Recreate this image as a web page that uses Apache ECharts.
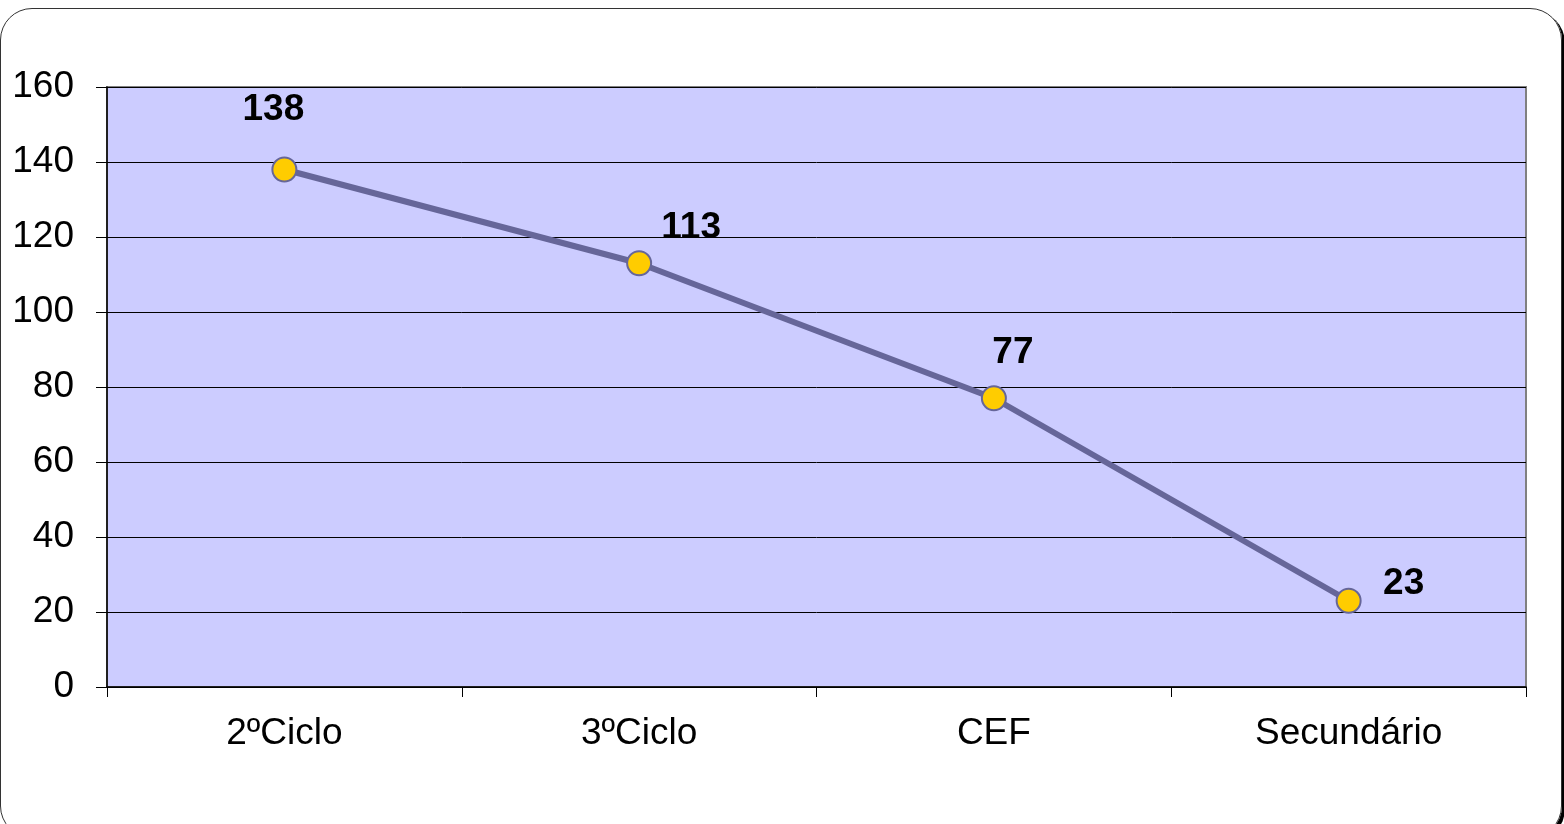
<!DOCTYPE html>
<html>
<head>
<meta charset="utf-8">
<script src="https://cdn.jsdelivr.net/npm/echarts@6/dist/echarts.min.js"></script>
<style>
html,body{margin:0;padding:0;background:#fff;}
#frame{position:absolute;left:0;top:8px;width:1562px;height:830px;border:1px solid #333;border-radius:32px;box-sizing:border-box;box-shadow:3px 3px 0 #000;}
#chart{position:absolute;left:0;top:0;width:1564px;height:824px;}
</style>
</head>
<body>
<div id="frame"></div>
<div id="chart"></div>
<script>
const categories = ['2ºCiclo', '3ºCiclo', 'CEF', 'Secundário'];
const values = [138, 113, 77, 23];
const yTicks = { min: 0, max: 160, interval: 20 };

const labelOffsets = [[-11, -60], [52, -35], [19, -45], [55, -17]];

const chart = echarts.init(document.getElementById('chart'), null, { renderer: 'canvas' });
chart.setOption({
  backgroundColor: 'transparent',
  animation: false,
  grid: { left: 107, right: 38, top: 87, bottom: 137, show: true, backgroundColor: '#CCCCFF', borderColor: '#808080', borderWidth: 2 },
  xAxis: {
    type: 'category',
    data: categories,
    boundaryGap: true,
    axisLine: { lineStyle: { color: '#000', width: 1.5 } },
    axisTick: { show: true, length: 10, lineStyle: { color: '#000' } },
    axisLabel: { fontFamily: 'Liberation Sans, Arial', fontSize: 37, color: '#000', margin: 28 }
  },
  yAxis: {
    type: 'value',
    min: yTicks.min, max: yTicks.max, interval: yTicks.interval,
    axisLine: { show: true, lineStyle: { color: '#000', width: 1.5 } },
    axisTick: { show: true, length: 11, lineStyle: { color: '#000' } },
    axisLabel: { fontFamily: 'Liberation Sans, Arial', fontSize: 37, color: '#000', margin: 33, padding: [4, 0, 0, 0] },
    splitLine: { show: true, lineStyle: { color: '#000', width: 1 } }
  },
  series: [{
    type: 'line',
    data: values.map((v, i) => ({
      value: v,
      label: { offset: labelOffsets[i] }
    })),
    lineStyle: { color: '#666699', width: 6 },
    symbol: 'circle',
    symbolSize: 24,
    itemStyle: { color: '#FFCC00', borderColor: '#666699', borderWidth: 2 },
    label: {
      show: true, position: 'inside',
      fontFamily: 'Liberation Sans, Arial', fontSize: 37, fontWeight: 'bold', color: '#000'
    },
    z: 5
  }]
});
</script>
</body>
</html>
